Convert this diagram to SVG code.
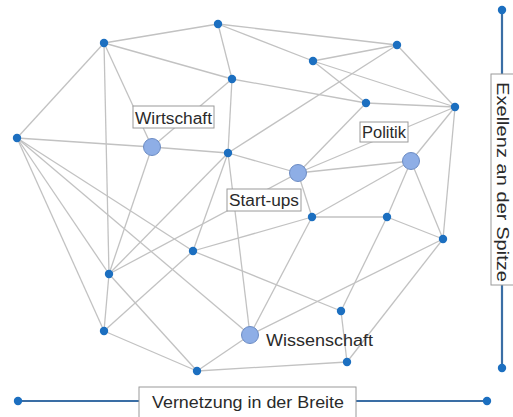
<svg xmlns="http://www.w3.org/2000/svg" width="513" height="417" viewBox="0 0 513 417">
<style>
.e{stroke:#c2c2c2;stroke-width:1.3;fill:none}
.d{fill:#1c6fc0}
.b{fill:#8eaee6;stroke:#6c8cc4;stroke-width:1}
.bx{fill:#fff;stroke:#9a9a9a;stroke-width:1}
.t{font-family:"Liberation Sans",Arial,sans-serif;font-size:16px;fill:#2a2a2a}
.ax{stroke:#3a6ea5;stroke-width:2.2}
.ad{fill:#1c6fc0}
</style>
<rect width="513" height="417" fill="#fff"/>
<g id="connectors">
<line class="e" x1="104" y1="43" x2="218" y2="24"/>
<line class="e" x1="104" y1="43" x2="232" y2="79"/>
<line class="e" x1="104" y1="43" x2="17" y2="138"/>
<line class="e" x1="104" y1="43" x2="109" y2="274"/>
<line class="e" x1="104" y1="43" x2="152" y2="147"/>
<line class="e" x1="218" y1="24" x2="232" y2="79"/>
<line class="e" x1="218" y1="24" x2="397" y2="45"/>
<line class="e" x1="218" y1="24" x2="313" y2="61"/>
<line class="e" x1="232" y1="79" x2="366" y2="103"/>
<line class="e" x1="232" y1="79" x2="228" y2="153"/>
<line class="e" x1="232" y1="79" x2="152" y2="147"/>
<line class="e" x1="17" y1="138" x2="152" y2="147"/>
<line class="e" x1="17" y1="138" x2="109" y2="274"/>
<line class="e" x1="17" y1="138" x2="104" y2="331"/>
<line class="e" x1="17" y1="138" x2="193" y2="251"/>
<line class="e" x1="17" y1="138" x2="250" y2="335"/>
<line class="e" x1="152" y1="147" x2="228" y2="153"/>
<line class="e" x1="152" y1="147" x2="109" y2="274"/>
<line class="e" x1="228" y1="153" x2="397" y2="45"/>
<line class="e" x1="228" y1="153" x2="298" y2="173"/>
<line class="e" x1="228" y1="153" x2="193" y2="251"/>
<line class="e" x1="228" y1="153" x2="109" y2="274"/>
<line class="e" x1="228" y1="153" x2="250" y2="335"/>
<line class="e" x1="397" y1="45" x2="313" y2="61"/>
<line class="e" x1="397" y1="45" x2="455" y2="107"/>
<line class="e" x1="313" y1="61" x2="366" y2="103"/>
<line class="e" x1="313" y1="61" x2="455" y2="107"/>
<line class="e" x1="366" y1="103" x2="455" y2="107"/>
<line class="e" x1="366" y1="103" x2="298" y2="173"/>
<line class="e" x1="455" y1="107" x2="298" y2="173"/>
<line class="e" x1="455" y1="107" x2="411" y2="161"/>
<line class="e" x1="455" y1="107" x2="443" y2="239"/>
<line class="e" x1="411" y1="161" x2="298" y2="173"/>
<line class="e" x1="411" y1="161" x2="312" y2="217"/>
<line class="e" x1="411" y1="161" x2="387" y2="217"/>
<line class="e" x1="411" y1="161" x2="443" y2="239"/>
<line class="e" x1="298" y1="173" x2="312" y2="217"/>
<line class="e" x1="298" y1="173" x2="109" y2="274"/>
<line class="e" x1="312" y1="217" x2="387" y2="217"/>
<line class="e" x1="312" y1="217" x2="193" y2="251"/>
<line class="e" x1="312" y1="217" x2="250" y2="335"/>
<line class="e" x1="387" y1="217" x2="443" y2="239"/>
<line class="e" x1="387" y1="217" x2="341" y2="311"/>
<line class="e" x1="443" y1="239" x2="347" y2="362"/>
<line class="e" x1="443" y1="239" x2="250" y2="335"/>
<line class="e" x1="341" y1="311" x2="193" y2="251"/>
<line class="e" x1="341" y1="311" x2="347" y2="362"/>
<line class="e" x1="347" y1="362" x2="197" y2="371"/>
<line class="e" x1="250" y1="335" x2="197" y2="371"/>
<line class="e" x1="104" y1="331" x2="197" y2="371"/>
<line class="e" x1="109" y1="274" x2="197" y2="371"/>
<line class="e" x1="109" y1="274" x2="104" y2="331"/>
<line class="e" x1="193" y1="251" x2="104" y2="331"/>
</g>
<g id="n-a"><circle class="d" cx="104" cy="43" r="4.2"/></g>
<g id="n-b"><circle class="d" cx="218" cy="24" r="4.2"/></g>
<g id="n-c"><circle class="d" cx="232" cy="79" r="4.2"/></g>
<g id="n-d"><circle class="d" cx="17" cy="138" r="4.2"/></g>
<g id="n-e"><circle class="d" cx="228" cy="153" r="4.2"/></g>
<g id="n-f"><circle class="d" cx="397" cy="45" r="4.2"/></g>
<g id="n-g"><circle class="d" cx="313" cy="61" r="4.2"/></g>
<g id="n-h"><circle class="d" cx="366" cy="103" r="4.2"/></g>
<g id="n-i"><circle class="d" cx="455" cy="107" r="4.2"/></g>
<g id="n-j"><circle class="d" cx="193" cy="251" r="4.2"/></g>
<g id="n-k"><circle class="d" cx="109" cy="274" r="4.2"/></g>
<g id="n-l"><circle class="d" cx="104" cy="331" r="4.2"/></g>
<g id="n-m"><circle class="d" cx="197" cy="371" r="4.2"/></g>
<g id="n-n"><circle class="d" cx="312" cy="217" r="4.2"/></g>
<g id="n-o"><circle class="d" cx="387" cy="217" r="4.2"/></g>
<g id="n-p"><circle class="d" cx="443" cy="239" r="4.2"/></g>
<g id="n-q"><circle class="d" cx="341" cy="311" r="4.2"/></g>
<g id="n-r"><circle class="d" cx="347" cy="362" r="4.2"/></g>
<g id="wirtschaft">
<circle class="b" cx="152" cy="147" r="8.5"/>
<rect class="bx" x="133" y="106" width="81" height="22"/>
<text class="t" x="135" y="124" textLength="77" lengthAdjust="spacingAndGlyphs">Wirtschaft</text>
</g>
<g id="politik">
<circle class="b" cx="411" cy="161" r="8.5"/>
<rect class="bx" x="360" y="122" width="48" height="20"/>
<text class="t" x="362" y="138" textLength="44" lengthAdjust="spacingAndGlyphs">Politik</text>
</g>
<g id="startups">
<circle class="b" cx="298" cy="173" r="8.5"/>
<rect class="bx" x="227" y="189" width="74" height="22"/>
<text class="t" x="229" y="206" textLength="70" lengthAdjust="spacingAndGlyphs">Start-ups</text>
</g>
<g id="wissenschaft">
<circle class="b" cx="250" cy="335" r="8.5"/>
<text class="t" x="266" y="346" textLength="107" lengthAdjust="spacingAndGlyphs">Wissenschaft</text>
</g>
<g id="axis-y">
<line class="ax" x1="502" y1="10" x2="502" y2="368"/>
<circle class="ad" cx="502" cy="10" r="4.2"/>
<circle class="ad" cx="502" cy="368" r="4.2"/>
<rect class="bx" x="491" y="74" width="24" height="211"/>
<text class="t" transform="translate(497,82) rotate(90)" textLength="200" lengthAdjust="spacingAndGlyphs">Exellenz an der Spitze</text>
</g>
<g id="axis-x">
<line class="ax" x1="18" y1="401" x2="487" y2="401"/>
<circle class="ad" cx="18" cy="401" r="4.2"/>
<circle class="ad" cx="487" cy="401" r="4.2"/>
<rect class="bx" x="139" y="387" width="217" height="32"/>
<text class="t" x="152" y="408" textLength="192" lengthAdjust="spacingAndGlyphs">Vernetzung in der Breite</text>
</g>
</svg>
